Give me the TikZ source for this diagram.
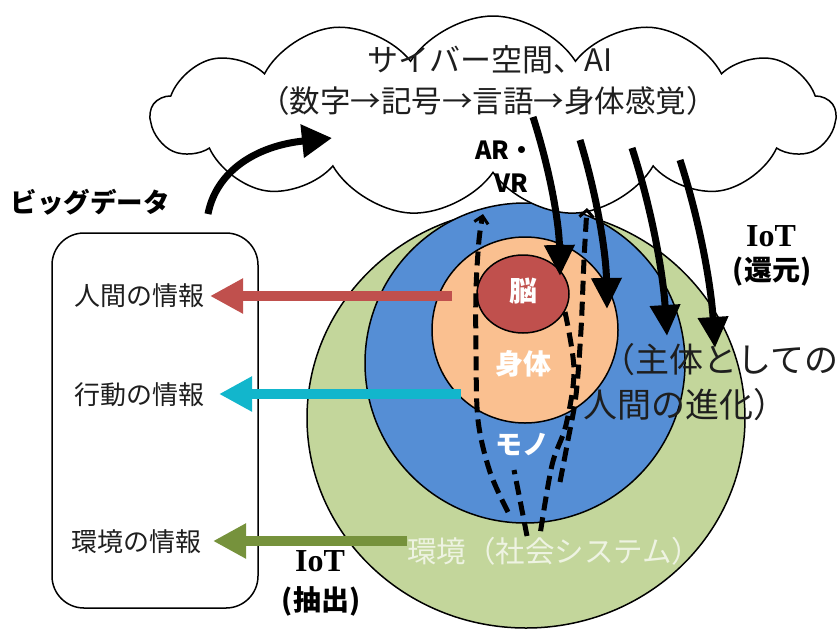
\documentclass[tikz,border=0pt]{standalone}
\usepackage{fontspec}
\setmainfont{Noto Sans CJK JP}
\newfontfamily\iotfont{Liberation Serif}
\usetikzlibrary{shapes.symbols,shapes.geometric,arrows.meta}
\definecolor{envgreen}{RGB}{195,214,155}
\definecolor{objblue}{RGB}{85,142,213}
\definecolor{bodyor}{RGB}{250,192,144}
\definecolor{brainred}{RGB}{192,80,77}
\definecolor{arrred}{RGB}{192,80,77}
\definecolor{arrcyan}{RGB}{18,182,204}
\definecolor{arrgreen}{RGB}{118,146,60}
\definecolor{envtext}{RGB}{238,243,226}
\definecolor{txtdark}{RGB}{30,30,30}
\begin{document}
\begin{tikzpicture}[x=1pt,y=-1pt,
  ring/.style={draw=black, line width=1.5pt, inner sep=0pt},
  cloudtxt/.style={font=\fontsize{31}{36}\selectfont, text=txtdark, inner sep=0pt},
  lab/.style={font=\fontsize{26}{30}\selectfont, text=txtdark, inner sep=0pt},
  whitelab/.style={font=\fontsize{28}{32}\selectfont\bfseries, text=white, inner sep=0pt},
  boldlab/.style={font=\fontsize{25}{28}\selectfont\bfseries, text=black, inner sep=0pt},
  iotlab/.style={font=\fontsize{32}{34}\selectfont\iotfont\bfseries, text=black, inner sep=0pt},
  iotsub/.style={font=\fontsize{28}{30}\selectfont\bfseries, text=black, inner sep=0pt},
  fatarrow/.style={line width=10pt, -{Triangle[length=33pt,width=33pt]}},
  bigarrow/.style={line width=7pt, black, -{Triangle[length=31pt,width=29pt]}},
  dashline/.style={line width=5pt, black, dash pattern=on 14pt off 7pt, line cap=butt},
  dashtip/.style={-{Straight Barb[length=7pt,width=14pt,line width=3pt]}}
]
\useasboundingbox (0,0) rectangle (840,630);

% nested circles
\node[ring, ellipse, fill=envgreen, minimum width=438pt, minimum height=420pt] (env) at (526,418) {};
\node[ring, circle, fill=objblue, minimum size=320pt] (mono) at (525,363) {};
\node[ring, circle, fill=bodyor, minimum size=186pt] (body) at (525,330) {};
\node[ring, ellipse, fill=brainred, minimum width=92pt, minimum height=78pt] (brain) at (523,294) {};

% cloud
\node[cloud, draw=black, fill=white, line width=1.5pt, cloud puffs=13, cloud puff arc=115,
      aspect=3.4, minimum width=684pt, minimum height=200pt, inner sep=0pt] (cloud) at (493,116) {};
\node[cloudtxt] (ct1) at (490,60) {サイバー空間、AI};
\node[cloudtxt, font=\fontsize{30.5}{36}\selectfont] (ct2) at (488,101) {（数字→記号→言語→身体感覚）};
\node[boldlab] (ar) at (505,150) {AR・};
\node[boldlab] (vr) at (511,183) {VR};

% big data box
\node[boldlab, font=\fontsize{26.5}{30}\selectfont\bfseries] (bigdata) at (90,202) {ビッグデータ};
\node[draw=black, line width=1.5pt, rounded corners=32pt, minimum width=206pt, minimum height=375pt] (box) at (155,420.5) {};
\node[lab] (hum) at (139,296) {人間の情報};
\node[lab] (act) at (139,395) {行動の情報};
\node[lab] (envi) at (136,542) {環境の情報};

% arrows from rings into the box
\coordinate (rs) at (452,296); \coordinate (rt) at (210,296);
\coordinate (cs) at (461,394); \coordinate (ctp) at (219,394);
\coordinate (gs) at (407,541); \coordinate (gt) at (213,541);
\draw[fatarrow, arrred] (rs) -- (rt);
\draw[fatarrow, arrcyan] (cs) -- (ctp);
\draw[fatarrow, arrgreen] (gs) -- (gt);

% curved arrow big data -> cloud
\coordinate (bs) at (208,214); \coordinate (bt) at (332,138);
\draw[line width=7pt, black, -{Triangle[length=30pt,width=32pt]}] (bs) .. controls (216,172) and (255,146) .. (bt);

% dashed loops (AR/VR)
\draw[dashline, dashtip] plot[smooth, tension=0.55] coordinates {(508,512) (490,472) (478,420) (476,350) (476,290) (479,240) (483,214)};
\draw[dashline, dashtip] plot[smooth, tension=0.55] coordinates {(560,482) (568,440) (576,395) (581,330) (584,260) (587,208)};
\draw[dashline] plot[smooth, tension=0.55] coordinates {(565,312) (574,370) (566,425) (552,465) (540,535)};
\draw[dashline] plot[smooth, tension=0.55] coordinates {(527,536) (519,495) (514,470)};

% IoT (return) arrows
\coordinate (a1s) at (533,117); \coordinate (a1t) at (560,276);
\coordinate (a2s) at (580,140); \coordinate (a2t) at (607,309);
\coordinate (a3s) at (632,148); \coordinate (a3t) at (667,336);
\coordinate (a4s) at (680,160); \coordinate (a4t) at (715,348);
\draw[bigarrow] (a1s) .. controls (550,170) and (559,222) .. (a1t);
\draw[bigarrow] (a2s) .. controls (597,196) and (606,252) .. (a2t);
\draw[bigarrow] (a3s) .. controls (652,210) and (663,273) .. (a3t);
\draw[bigarrow] (a4s) .. controls (700,222) and (711,285) .. (a4t);

% labels on rings
\node[whitelab] (lbrain) at (523,291) {脳};
\node[whitelab] (lbody) at (523,364) {身体};
\node[font=\fontsize{27}{30}\selectfont\bfseries, text=white, inner sep=0pt] (lmono) at (522,445) {モノ};
\node[font=\fontsize{29.5}{32}\selectfont, text=envtext, inner sep=0pt, anchor=west] (lenv) at (407,551) {環境（社会システム）};
\node[font=\fontsize{34}{38}\selectfont, text=txtdark, inner sep=0pt, anchor=west] (evo1) at (601,360) {（主体としての};
\node[font=\fontsize{34}{38}\selectfont, text=txtdark, inner sep=0pt, anchor=west] (evo2) at (583,405) {人間の進化）};

% IoT labels
\node[iotlab] (iot1) at (771,236) {IoT};
\node[iotsub] (iot1s) at (772,272) {(還元)};
\node[iotlab] (iot2) at (320,561) {IoT};
\node[iotsub] (iot2s) at (321,601) {(抽出)};
\end{tikzpicture}
\end{document}
